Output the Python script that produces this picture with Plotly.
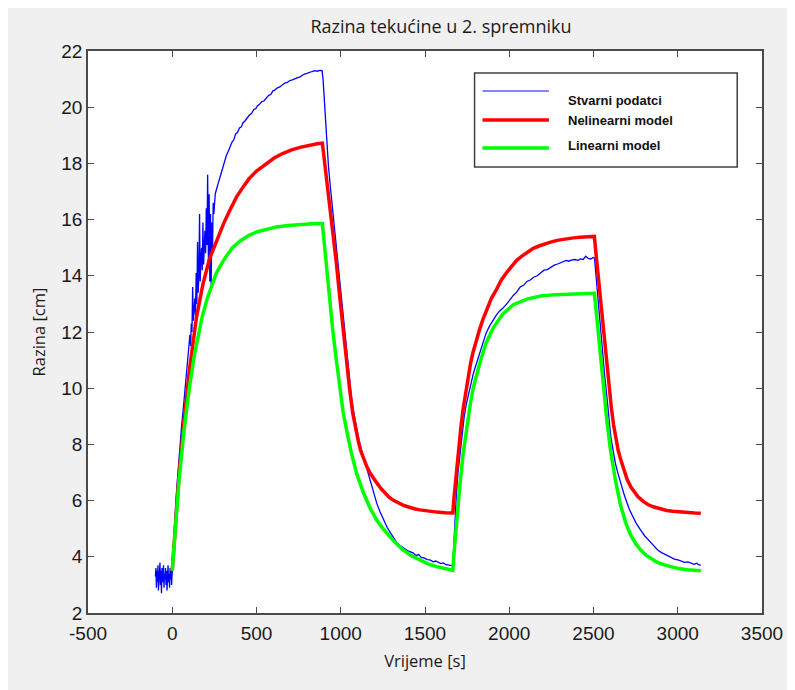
import plotly.graph_objects as go

title_text = "Razina tekućine u 2. spremniku"
x_title = "Vrijeme [s]"
y_title = "Razina [cm]"
names = ["Stvarni podatci", "Nelinearni model", "Linearni model"]
colors = ["#0000ff", "#ff0000", "#00ff00"]

x_tickvals = [-500, 0, 500, 1000, 1500, 2000, 2500, 3000, 3500]
x_ticktext = ["-500", "0", "500", "1000", "1500", "2000", "2500", "3000", "3500"]
y_tickvals = [2, 4, 6, 8, 10, 12, 14, 16, 18, 20, 22]
y_ticktext = ["2", "4", "6", "8", "10", "12", "14", "16", "18", "20", "22"]

# --- measured data (Stvarni podatci) ---
blue_t = [-100, -97, -94, -91, -88, -85, -82, -79, -76, -73, -70, -67, -64, -61, -58, -55, -52, -49, -46, -43,
          -40, -37, -34, -31, -28, -25, -22, -19, -16, -13, -10, -7, -4, -1,
          2, 8, 15, 25, 35, 46, 56, 66, 76, 86, 96,
          101, 105, 109, 113, 117, 121, 125, 130, 134, 138, 142, 146, 150, 154, 158, 162, 166, 170, 174, 178,
          182, 186, 190, 194, 198, 202, 206, 210, 215, 219, 223, 227, 231, 235, 239, 243, 247, 251, 255, 259,
          265, 273, 283, 293, 304, 314, 322, 334, 344, 354, 366, 376, 387, 399, 410, 420, 430, 443, 458, 471,
          484, 496, 506, 518, 531, 544, 560, 572, 585, 597, 607, 622, 638, 655, 668, 683, 698, 713, 729, 744,
          756, 769, 784, 799, 816, 830, 845, 860, 875, 889,
          895, 903, 911, 919, 927, 941, 953, 964, 978, 992, 1008, 1024, 1042, 1063, 1078, 1093, 1108, 1123, 1139, 1155,
          1174, 1194, 1214, 1233, 1255, 1275, 1295, 1316, 1334, 1356, 1376, 1402, 1429, 1447, 1462, 1478, 1498, 1513,
          1530, 1548, 1564, 1579, 1594, 1609, 1624, 1637, 1652, 1664,
          1670, 1678, 1686, 1696, 1708, 1720, 1733, 1746, 1768, 1786, 1801, 1817, 1828, 1844, 1862, 1882, 1905, 1923,
          1943, 1963, 1989, 2009, 2024, 2044, 2065, 2085, 2105, 2125, 2145, 2166, 2185, 2206, 2226, 2247, 2267, 2287,
          2303, 2323, 2338, 2353, 2368, 2388, 2409, 2423, 2439, 2454, 2469, 2484, 2498, 2506,
          2512, 2520, 2530, 2540, 2554, 2567, 2581, 2591, 2602, 2616, 2631, 2646, 2662, 2679, 2697, 2712, 2732, 2753,
          2780, 2803, 2834, 2859, 2881, 2904, 2935, 2955, 2980, 3001, 3021, 3041, 3061, 3082, 3097, 3112, 3125, 3137]
blue_v = [3.3, 3.6, 2.9, 3.5, 3.1, 3.7, 2.8, 3.4, 3.2, 3.8, 3.0, 3.5, 2.7, 3.6, 3.3, 3.1, 3.7, 2.9, 3.4, 3.2,
          3.6, 3.0, 3.5, 2.8, 3.3, 3.7, 3.1, 3.4, 2.9, 3.6, 3.2, 3.5, 3.0, 3.4,
          3.5, 4.2, 5.3, 6.3, 7.2, 8.0, 8.7, 9.3, 9.9, 10.5, 11.1,
          11.6, 11.9, 11.5, 12.3, 12.0, 13.6, 12.4, 12.9, 13.2, 12.6, 14.1, 13.0, 15.2, 13.4, 14.0, 16.2, 13.8, 14.6, 15.0, 14.2,
          15.9, 14.4, 15.3, 15.6, 14.8, 16.4, 15.1, 17.6, 14.3, 16.9, 13.8, 16.2, 13.6, 15.9, 14.9, 16.6, 16.2, 16.7, 16.9, 17.0,
          17.1, 17.3, 17.5, 17.7, 17.95, 18.15, 18.3, 18.45, 18.6, 18.75, 18.85, 19.05, 19.1, 19.26, 19.3, 19.45, 19.5, 19.62, 19.72, 19.78,
          19.92, 19.95, 20.05, 20.1, 20.2, 20.22, 20.33, 20.42, 20.45, 20.58, 20.6, 20.68, 20.72, 20.8, 20.86, 20.88, 20.95, 20.97, 21.02, 21.05,
          21.07, 21.13, 21.18, 21.2, 21.25, 21.27, 21.3, 21.28, 21.31, 21.3,
          21.0, 20.2, 19.3, 18.5, 17.9, 17.0, 16.3, 15.63, 14.8, 14.0, 13.0, 12.07, 10.9, 9.7, 9.1, 8.6, 8.15, 7.8, 7.45, 7.15,
          6.7, 6.3, 5.9, 5.6, 5.3, 5.05, 4.85, 4.65, 4.5, 4.38, 4.3, 4.2, 4.14, 4.05, 4.08, 3.98, 3.95, 3.9,
          3.89, 3.82, 3.85, 3.79, 3.76, 3.78, 3.72, 3.71, 3.69, 3.68,
          4.3, 5.3, 6.2, 7.0, 7.69, 8.4, 9.0, 9.45, 10.04, 10.5, 10.8, 11.1, 11.36, 11.65, 11.95, 12.2, 12.43, 12.6,
          12.75, 12.85, 13.03, 13.2, 13.3, 13.42, 13.6, 13.66, 13.8, 13.85, 13.95, 14.0, 14.1, 14.2, 14.22, 14.3, 14.38, 14.42,
          14.46, 14.5, 14.55, 14.52, 14.56, 14.58, 14.55, 14.6, 14.58, 14.7, 14.62, 14.6, 14.65, 14.63,
          14.2, 13.7, 12.95, 12.2, 11.25, 10.4, 9.6, 9.0, 8.3, 7.8, 7.3, 6.95, 6.6, 6.27, 5.95, 5.7, 5.45, 5.2,
          4.95, 4.75, 4.55, 4.38, 4.24, 4.15, 4.05, 4.0, 3.92, 3.89, 3.85, 3.8, 3.82, 3.76, 3.73, 3.77, 3.71, 3.7]

# --- nonlinear model ---
red_t = [0, 15, 40, 71, 101, 143, 182, 221, 262, 304, 339, 381, 425, 455, 500, 557, 607, 655, 708, 759, 816, 860, 891,
         911, 931, 952, 974, 994, 1014, 1035, 1053, 1071, 1087, 1103, 1117, 1131, 1154, 1174, 1194, 1214, 1240, 1265,
         1285, 1310, 1336, 1366, 1392, 1417, 1442, 1470, 1518, 1569, 1619, 1665,
         1672, 1680, 1690, 1700, 1712, 1726, 1741, 1756, 1771, 1786, 1803, 1822, 1844, 1869, 1894, 1923, 1953, 1989,
         2014, 2044, 2075, 2107, 2140, 2176, 2211, 2245, 2284, 2318, 2348, 2381, 2419, 2449, 2479, 2505,
         2518, 2530, 2542, 2555, 2569, 2583, 2596, 2606, 2619, 2631, 2646, 2662, 2679, 2700, 2722, 2742, 2762, 2793,
         2823, 2854, 2881, 2914, 2935, 2970, 3001, 3036, 3066, 3102, 3137]
red_v = [3.5, 4.9, 6.9, 8.9, 10.6, 12.5, 13.7, 14.6, 15.25, 15.85, 16.3, 16.8, 17.2, 17.45, 17.73, 18.0, 18.2, 18.35, 18.48, 18.57, 18.65, 18.7, 18.72,
         17.75, 16.7, 15.63, 14.45, 13.25, 12.05, 10.9, 9.95, 9.12, 8.6, 8.15, 7.8, 7.55, 7.22, 6.98, 6.79, 6.63, 6.42, 6.25,
         6.13, 6.02, 5.93, 5.85, 5.79, 5.74, 5.7, 5.67, 5.62, 5.59, 5.57, 5.56,
         6.1, 6.65, 7.3, 7.9, 8.55, 9.25, 9.85, 10.45, 10.9, 11.3, 11.7, 12.05, 12.45, 12.85, 13.2, 13.5, 13.85, 14.15,
         14.35, 14.55, 14.7, 14.85, 14.97, 15.06, 15.14, 15.2, 15.26, 15.3, 15.33, 15.35, 15.37, 15.38, 15.39, 15.4,
         14.6, 13.85, 13.05, 12.2, 11.3, 10.45, 9.8, 9.3, 8.7, 8.25, 7.8, 7.45, 7.1, 6.75, 6.48, 6.3, 6.15, 5.98,
         5.86, 5.78, 5.73, 5.68, 5.65, 5.62, 5.6, 5.58, 5.57, 5.56, 5.55]

# --- linear model ---
green_t = [0, 15, 40, 71, 101, 132, 152, 178, 208, 233, 262, 304, 357, 405, 458, 506, 557, 619, 688, 759, 830, 891,
           904, 917, 931, 952, 974, 994, 1014, 1035, 1063, 1095, 1133, 1173, 1214, 1245, 1274, 1316, 1369, 1417, 1470,
           1518, 1569, 1619, 1665,
           1672, 1680, 1691, 1708, 1726, 1746, 1768, 1786, 1806, 1828, 1862, 1905, 1963, 2024, 2105, 2185, 2275, 2346,
           2429, 2505,
           2520, 2535, 2550, 2565, 2581, 2602, 2631, 2660, 2692, 2722, 2753, 2783, 2813, 2840, 2874, 2915, 2959, 3006,
           3056, 3097, 3137]
green_v = [3.5, 4.8, 6.7, 8.55, 10.0, 11.2, 11.85, 12.55, 13.2, 13.65, 14.1, 14.55, 15.0, 15.25, 15.45, 15.57, 15.66, 15.74, 15.79, 15.83, 15.85, 15.86,
           15.0, 14.2, 13.35, 12.1, 11.0, 9.95, 9.15, 8.5, 7.7, 6.95, 6.3, 5.75, 5.3, 5.05, 4.85, 4.55, 4.25, 4.05, 3.89,
           3.75, 3.65, 3.57, 3.52,
           4.1, 4.75, 5.45, 6.6, 7.65, 8.6, 9.4, 10.0, 10.5, 10.95, 11.6, 12.15, 12.65, 12.97, 13.17, 13.28, 13.33, 13.35,
           13.37, 13.38,
           12.5, 11.5, 10.5, 9.55, 8.75, 7.75, 6.7, 5.85, 5.2, 4.75, 4.45, 4.22, 4.05, 3.95, 3.82, 3.72, 3.64, 3.58,
           3.54, 3.52, 3.5]

x_range = [-500, 3500]
y_range = [2, 22]

# figure geometry (page body adds an 8px offset)
W, H = 787, 682
ML, MR, MT, MB = 80, 27, 43, 77
pw, ph = W - ML - MR, H - MT - MB


def px(xf):  # figure pixel x -> paper x
    return (xf - ML) / pw


def py(yf):  # figure pixel y -> paper y
    return (H - MB - yf) / ph


fig = go.Figure()
widths = [1.3, 3.5, 3.5]
for tt, vv, nm, col, lw in zip([blue_t, red_t, green_t], [blue_v, red_v, green_v], names, colors, widths):
    fig.add_trace(go.Scatter(x=tt, y=vv, mode="lines", name=nm, showlegend=False,
                             line=dict(color=col, width=lw)))

axis_common = dict(showline=True, linecolor="#4a4a4a", linewidth=1.5, mirror="ticks",
                   ticks="inside", ticklen=6, tickcolor="#4a4a4a", tickwidth=1,
                   showgrid=False, zeroline=False,
                   tickfont=dict(family="Liberation Sans, Arial", size=19, color="#1a1a1a"))

# legend drawn as a box with samples and labels
leg_box = (470, 65, 735, 159)
leg_line_y = [83, 112, 140]
leg_text_y = [92, 112, 137]
leg_line_x = (478, 545)
leg_text_x = 562
leg_line_colors = ["#5c5cff", "#ff0000", "#00ff00"]
leg_line_widths = [1.6, 3.5, 3.5]

shapes = [dict(type="rect", xref="paper", yref="paper",
               x0=px(leg_box[0]), x1=px(leg_box[2]), y0=py(leg_box[3]), y1=py(leg_box[1]),
               fillcolor="white", line=dict(color="#404040", width=1.5))]
annotations = []
for i in range(3):
    shapes.append(dict(type="line", xref="paper", yref="paper",
                       x0=px(leg_line_x[0]), x1=px(leg_line_x[1]), y0=py(leg_line_y[i]), y1=py(leg_line_y[i]),
                       line=dict(color=leg_line_colors[i], width=leg_line_widths[i])))
    annotations.append(dict(xref="paper", yref="paper", x=px(leg_text_x), y=py(leg_text_y[i]),
                            text="<b>" + names[i] + "</b>", showarrow=False, xanchor="left", yanchor="middle",
                            font=dict(family="Liberation Sans, Arial", size=13, color="#111111")))

fig.update_layout(
    width=W, height=H,
    margin=dict(l=ML, r=MR, t=MT, b=MB),
    paper_bgcolor="#f0f0f0", plot_bgcolor="white",
    showlegend=False,
    title=dict(text=title_text, x=433 / W, xanchor="center", y=1 - 19 / H, yanchor="middle",
               font=dict(family="Open Sans", size=18, color="#1a1a1a")),
    xaxis=dict(range=x_range, tickmode="array", tickvals=x_tickvals, ticktext=x_ticktext,
               ticklabelstandoff=2,
               title=dict(text=x_title, standoff=13, font=dict(family="Open Sans", size=16.5, color="#1a1a1a")),
               **axis_common),
    yaxis=dict(range=y_range, tickmode="array", tickvals=y_tickvals, ticktext=y_ticktext,
               title=dict(text=y_title, standoff=12, font=dict(family="Open Sans", size=16.5, color="#1a1a1a")),
               **axis_common),
    shapes=shapes,
    annotations=annotations,
)

fig.write_html("out.html")
